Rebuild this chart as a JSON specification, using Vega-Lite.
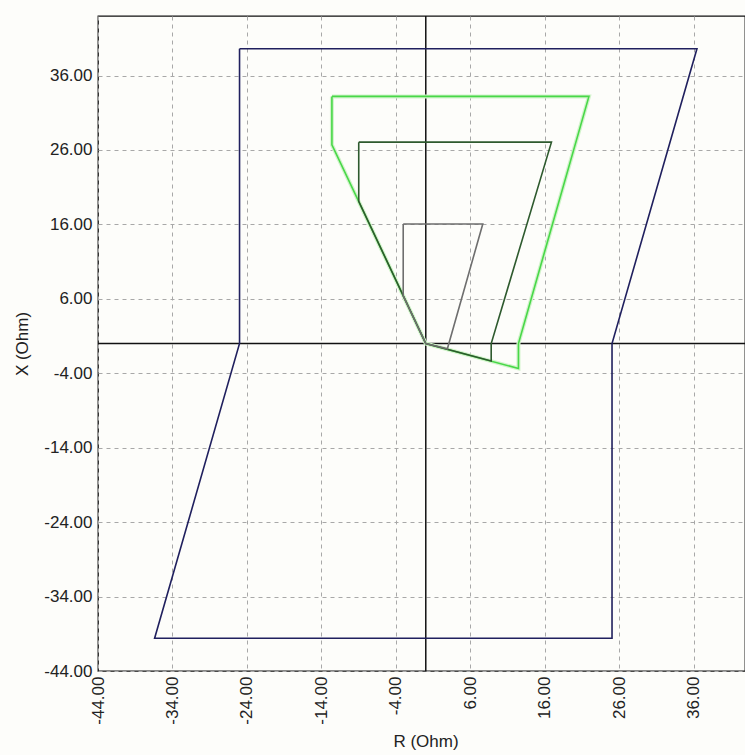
{
  "$schema": "https://vega.github.io/schema/vega-lite/v6.json",
  "width": 647,
  "height": 655,
  "autosize": {"type": "none"},
  "padding": {"left": 98, "top": 16, "right": 0, "bottom": 84},
  "background": "#fdfdfa",
  "config": {
    "view": {"stroke": "#111111", "strokeWidth": 1.3},
    "locale": {"number": {"decimal": ".", "thousands": ",", "grouping": [3], "currency": ["$", ""], "minus": "-"}},
    "axis": {
      "labelFont": "Liberation Sans",
      "labelFontSize": 17,
      "labelColor": "#222222",
      "titleFont": "Liberation Sans",
      "titleFontSize": 17,
      "titleFontWeight": "normal",
      "titleColor": "#222222",
      "ticks": false,
      "domain": false,
      "grid": true,
      "gridColor": "#a8a8a8",
      "gridDash": [4, 4],
      "gridWidth": 1,
      "labelFlush": false,
      "labelOverlap": false
    }
  },
  "datasets": {
    "shapes": [
      {"zone": "outer", "i": 0, "R": -25, "X": 39.6},
      {"zone": "outer", "i": 1, "R": 36.4, "X": 39.6},
      {"zone": "outer", "i": 2, "R": 25, "X": 0},
      {"zone": "outer", "i": 3, "R": 25, "X": -39.6},
      {"zone": "outer", "i": 4, "R": -36.4, "X": -39.6},
      {"zone": "outer", "i": 5, "R": -25, "X": 0},
      {"zone": "outer", "i": 6, "R": -25, "X": 39.6},
      {"zone": "zone3", "i": 0, "R": -12.6, "X": 33.2},
      {"zone": "zone3", "i": 1, "R": 21.9, "X": 33.2},
      {"zone": "zone3", "i": 2, "R": 12.44, "X": 0},
      {"zone": "zone3", "i": 3, "R": 12.44, "X": -3.36},
      {"zone": "zone3", "i": 4, "R": 0, "X": 0},
      {"zone": "zone3", "i": 5, "R": -12.6, "X": 26.7},
      {"zone": "zone3", "i": 6, "R": -12.6, "X": 33.2},
      {"zone": "zone2", "i": 0, "R": -9, "X": 27.05},
      {"zone": "zone2", "i": 1, "R": 16.87, "X": 27.05},
      {"zone": "zone2", "i": 2, "R": 8.78, "X": 0},
      {"zone": "zone2", "i": 3, "R": 8.78, "X": -2.35},
      {"zone": "zone2", "i": 4, "R": 0, "X": 0},
      {"zone": "zone2", "i": 5, "R": -9, "X": 19.1},
      {"zone": "zone2", "i": 6, "R": -9, "X": 27.05},
      {"zone": "zone1", "i": 0, "R": -3.03, "X": 16.05},
      {"zone": "zone1", "i": 1, "R": 7.65, "X": 16.05},
      {"zone": "zone1", "i": 2, "R": 2.9, "X": -0.7},
      {"zone": "zone1", "i": 3, "R": 0, "X": 0},
      {"zone": "zone1", "i": 4, "R": -3.03, "X": 6.4},
      {"zone": "zone1", "i": 5, "R": -3.03, "X": 16.05}
    ],
    "zero": [{"R": 0, "X": 0}]
  },
  "layer": [
    {
      "data": {"name": "zero"},
      "mark": {"type": "rule", "color": "#111111", "strokeWidth": 1.5},
      "encoding": {
        "x": {
          "field": "R", "type": "quantitative",
          "scale": {"domain": [-44, 42.85], "nice": false, "zero": false},
          "axis": {
            "values": [-44, -34, -24, -14, -4, 6, 16, 26, 36],
            "format": ".2f",
            "labelAngle": -90,
            "labelPadding": 5,
            "title": "R (Ohm)",
            "titleX": 327.5,
            "titleY": 70,
            "titleBaseline": "middle"
          }
        }
      }
    },
    {
      "data": {"name": "zero"},
      "mark": {"type": "rule", "color": "#111111", "strokeWidth": 1.5},
      "encoding": {
        "y": {
          "field": "X", "type": "quantitative",
          "scale": {"domain": [-44, 44], "nice": false, "zero": false},
          "axis": {
            "values": [-44, -34, -24, -14, -4, 6, 16, 26, 36],
            "format": ".2f",
            "labelPadding": 6,
            "title": "X (Ohm)",
            "titleX": -76,
            "titleBaseline": "middle"
          }
        }
      }
    },
    {
      "data": {"name": "shapes"},
      "transform": [{"filter": "datum.zone == 'zone3'"}],
      "mark": {"type": "line", "color": "#d2f3cb", "strokeWidth": 4},
      "encoding": {
        "x": {"field": "R", "type": "quantitative"},
        "y": {"field": "X", "type": "quantitative"},
        "order": {"field": "i"}
      }
    },
    {
      "data": {"name": "shapes"},
      "mark": {"type": "line", "strokeJoin": "miter"},
      "encoding": {
        "x": {"field": "R", "type": "quantitative"},
        "y": {"field": "X", "type": "quantitative"},
        "color": {
          "field": "zone", "type": "nominal",
          "scale": {"domain": ["outer", "zone3", "zone2", "zone1"], "range": ["#20205e", "#48d848", "#2e5a2e", "#6e6e6e"]},
          "legend": null
        },
        "strokeWidth": {
          "field": "zone", "type": "nominal",
          "scale": {"domain": ["outer", "zone3", "zone2", "zone1"], "range": [1.6, 1.6, 1.6, 1.1]},
          "legend": null
        },
        "order": {"field": "i"}
      }
    }
  ]
}
